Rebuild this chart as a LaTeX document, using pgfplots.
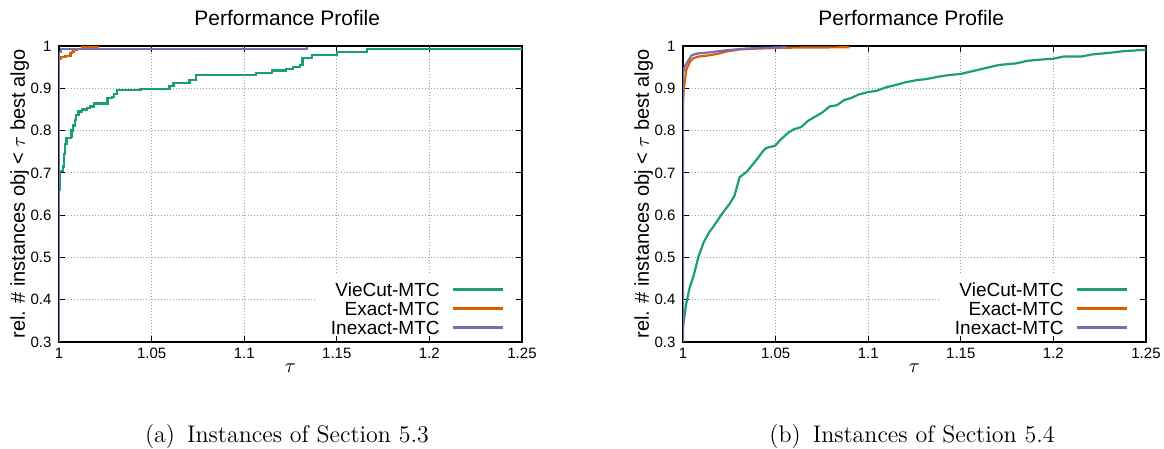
\documentclass[border=0pt]{standalone}
\usepackage{fontspec}
\usepackage{pgfplots}
\pgfplotsset{compat=1.18}
\newfontfamily\arial{Liberation Sans}
\definecolor{cgreen}{HTML}{1B9E77}
\definecolor{corange}{HTML}{D95F02}
\definecolor{cpurple}{HTML}{7570B3}

\pgfplotsset{
  pp/.style={
    scale only axis, width=231.5pt, height=148pt,
    anchor=south west,
    xmin=1, xmax=1.25, ymin=0.3, ymax=1,
    xtick={1,1.05,1.1,1.15,1.2,1.25},
    xticklabels={1,1.05,1.1,1.15,1.2,1.25},
    ytick={0.3,0.4,0.5,0.6,0.7,0.8,0.9,1},
    yticklabels={0.3,0.4,0.5,0.6,0.7,0.8,0.9,1},
    tick align=inside, major tick length=3pt,
    tick style={black, line width=0.5pt},
    axis line style={line width=0.6pt},
    grid=major,
    major grid style={gray!75, line width=0.4pt, dash pattern=on 0.5pt off 1pt},
    font=\arial,
    ticklabel style={font=\arial\fontsize{7.5}{9}\selectfont, inner sep=0pt},
    xticklabel style={anchor=north, yshift=-2.7pt},
    yticklabel style={anchor=east, xshift=-3.6pt},
    title={Performance Profile},
    every axis title shift=0pt,
    title style={at={(axis description cs:0.493,1.0946)}, anchor=center, font=\arial\fontsize{10.5}{12}\selectfont},
    xlabel={$\tau$},
    xlabel style={at={(axis description cs:0.5,-0.088)}, anchor=center, font=\fontsize{10}{12}\selectfont},
    ylabel={rel. \# instances obj < $\tau$ best algo},
    ylabel style={at={(axis description cs:-0.0851,0.5)}, anchor=center, font=\arial\fontsize{10}{12}\selectfont},
    legend plot pos=right,
    legend cell align=right,
    legend image code/.code={\draw[#1] (0pt,0pt) -- (25pt,0pt);},
    legend style={at={(axis cs:1.2402,0.3175)}, anchor=south east, draw=none, fill=none,
      inner sep=0pt, outer sep=0pt, row sep=2.5pt, column sep=6pt,
      font=\arial\fontsize{9.5}{11}\selectfont,
      nodes={inner sep=0pt, text height=7pt, text depth=0pt}},
    every axis plot/.append style={line width=1.1pt},
  },
}

\begin{document}
\begin{tikzpicture}
\path[use as bounding box] (0,0) rectangle (582pt,224.5pt);

% (a) Section 5.3
\begin{axis}[pp, at={(29.5pt,53.5pt)}]
% blank area behind the key
\fill[white] (axis cs:1.1385,0.3142) rectangle (axis cs:1.2467,0.462);
\addplot[cgreen, const plot] coordinates {
(1.0000,0.610) (1.0002,0.660) (1.0005,0.705) (1.0020,0.715) (1.0028,0.745)
(1.0032,0.768) (1.0041,0.782) (1.0063,0.786) (1.0068,0.800) (1.0077,0.812)
(1.0085,0.825) (1.0092,0.837) (1.0105,0.845) (1.0123,0.850) (1.0150,0.853)
(1.0168,0.857) (1.0190,0.864) (1.0262,0.877) (1.0285,0.879) (1.0297,0.886)
(1.0315,0.896) (1.0440,0.899) (1.0597,0.905) (1.0618,0.913) (1.0705,0.920)
(1.0741,0.931) (1.1065,0.936) (1.1150,0.942) (1.1225,0.946) (1.1265,0.950)
(1.1300,0.956) (1.1315,0.971) (1.1365,0.979) (1.1500,0.985) (1.1665,0.993)
(1.2500,0.993)
};
\addlegendentry{VieCut-MTC}
\addplot[corange, const plot] coordinates {
(1.0000,0.955) (1.0001,0.969) (1.0008,0.974) (1.0035,0.977) (1.0062,0.983)
(1.0070,0.986) (1.0078,0.990) (1.0095,0.993) (1.0125,0.997) (1.0218,0.997)
};
\addlegendentry{Exact-MTC}
\addplot[cpurple, const plot] coordinates {
(1.0000,0.300) (1.0002,0.985) (1.0010,0.993) (1.1340,0.998)
};
\addlegendentry{Inexact-MTC}
\end{axis}

% (b) Section 5.4
\begin{axis}[pp, at={(341.5pt,53.5pt)}]
\fill[white] (axis cs:1.1385,0.3142) rectangle (axis cs:1.2467,0.462);
\addplot[cgreen] coordinates {
(1.0000,0.335) (1.0016,0.387) (1.0035,0.427) (1.0058,0.458) (1.0083,0.501)
(1.0113,0.537) (1.0142,0.560) (1.0163,0.572) (1.0210,0.603) (1.0252,0.627)
(1.0278,0.646) (1.0306,0.690) (1.0345,0.703) (1.0375,0.719) (1.0404,0.735)
(1.0433,0.752) (1.0450,0.759) (1.0497,0.764) (1.0530,0.780) (1.0569,0.795)
(1.0598,0.803) (1.0637,0.808) (1.0675,0.823) (1.0714,0.833) (1.0753,0.843)
(1.0792,0.857) (1.0831,0.860) (1.0870,0.872) (1.0908,0.877) (1.0947,0.885)
(1.0998,0.891) (1.1044,0.894) (1.1102,0.903) (1.1141,0.907) (1.1200,0.914)
(1.1258,0.919) (1.1316,0.922) (1.1374,0.927) (1.1432,0.931) (1.1500,0.934)
(1.1568,0.941) (1.1646,0.949) (1.1704,0.955) (1.1801,0.959) (1.1860,0.965)
(1.1937,0.968) (1.2001,0.970) (1.2054,0.975) (1.2150,0.975) (1.2209,0.980)
(1.2306,0.984) (1.2384,0.988) (1.2500,0.991)
};
\addlegendentry{VieCut-MTC}
\addplot[corange] coordinates {
(1.0000,0.861) (1.0003,0.891) (1.0008,0.910) (1.0017,0.943) (1.0038,0.963)
(1.0056,0.971) (1.0082,0.975) (1.0127,0.977) (1.0181,0.981) (1.0235,0.987)
(1.0306,0.992) (1.0414,0.994) (1.0557,0.996) (1.0900,0.997)
};
\addlegendentry{Exact-MTC}
\addplot[cpurple] coordinates {
(1.0000,0.300) (1.0000,0.935) (1.0008,0.950) (1.0029,0.966) (1.0047,0.978)
(1.0074,0.982) (1.0145,0.985) (1.0235,0.990) (1.0342,0.994) (1.0468,0.996)
(1.0557,0.997)
};
\addlegendentry{Inexact-MTC}
\end{axis}

\node[font=\fontsize{12}{14}\selectfont] at (143.5pt,6pt) {(a)\hspace{6pt}Instances of Section 5.3};
\node[font=\fontsize{12}{14}\selectfont] at (456pt,6pt) {(b)\hspace{6pt}Instances of Section 5.4};
\end{tikzpicture}
\end{document}
